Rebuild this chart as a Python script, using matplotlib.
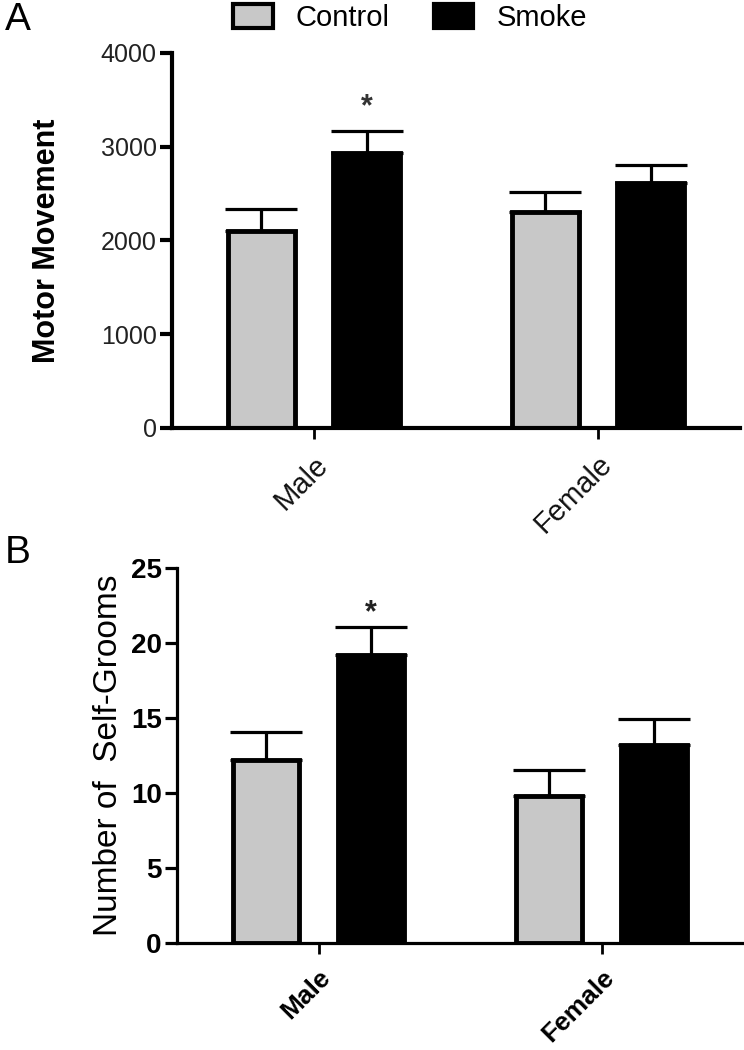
import matplotlib
matplotlib.use("Agg")
import matplotlib.pyplot as plt
from matplotlib.patches import Patch
import numpy as np

# ---- data ----
groups = ["Male", "Female"]
series = ["Control", "Smoke"]
motor_mean = {"Control": [2100, 2305], "Smoke": [2930, 2610]}
motor_sem = {"Control": [235, 215], "Smoke": [235, 195]}
groom_mean = {"Control": [12.2, 9.8], "Smoke": [19.2, 13.2]}
groom_sem = {"Control": [1.85, 1.75], "Smoke": [1.85, 1.75]}
colors = {"Control": "#c8c8c8", "Smoke": "#000000"}
motor_ticks = [0, 1000, 2000, 3000, 4000]
groom_ticks = [0, 5, 10, 15, 20, 25]
star_motor = 3420
star_groom = 22.0

plt.rcParams['font.family'] = ['Liberation Sans', 'DejaVu Sans']

fig = plt.figure(figsize=(7.44, 10.5), dpi=100)
axA = fig.add_axes([172/744, 1-428/1050, 568/744, 375/1050])
axB = fig.add_axes([177/744, 1-943/1050, 566/744, 375/1050])

x = np.arange(len(groups))
offs = {"Control": -0.185, "Smoke": 0.185}
width = 0.235

def draw(ax, means, sems, ticks, lw_spine, lw_edge, tickfont, xfont, ylabel, yfont):
    for s in series:
        pos = x + offs[s]
        ax.errorbar(pos, means[s], yerr=[np.zeros(len(groups)), sems[s]],
                    fmt='none', ecolor='black', elinewidth=2.3, capsize=26,
                    capthick=2.3, zorder=1)
        ax.bar(pos, means[s], width=width, color=colors[s], edgecolor='black',
               linewidth=lw_edge, zorder=2)
    ax.set_xlim(-0.5, 1.5)
    ax.set_ylim(0, ticks[-1])
    ax.set_yticks(ticks)
    ax.set_xticks(x)
    for sp in ["top", "right"]:
        ax.spines[sp].set_visible(False)
    for sp in ["left", "bottom"]:
        ax.spines[sp].set_linewidth(lw_spine)
    ax.spines["bottom"].set_zorder(3)
    ax.tick_params(axis='y', length=9, width=lw_spine, pad=2)
    ax.tick_params(axis='x', length=8, width=2, pad=8)
    ax.set_yticklabels([str(t) for t in ticks], **tickfont)
    ax.set_xticklabels(groups, rotation=45, ha='right', rotation_mode='anchor', **xfont)
    ax.set_ylabel(ylabel, **yfont)

draw(axA, motor_mean, motor_sem, motor_ticks, 3.0, 3.5,
     dict(fontsize=18, color='#222222'),
     dict(fontsize=21, color='#111111'),
     "Motor Movement", dict(fontsize=22, fontweight='bold', labelpad=28))
draw(axB, groom_mean, groom_sem, groom_ticks, 2.3, 3.5,
     dict(fontsize=20, fontweight='bold'),
     dict(fontsize=19, fontweight='bold'),
     "Number of  Self-Grooms", dict(fontsize=24, labelpad=5))

axA.text(x[0] + offs["Smoke"], star_motor, "*", ha='center', va='center',
         fontsize=22, fontweight='bold', color='#333333')
axB.text(x[0] + offs["Smoke"], star_groom, "*", ha='center', va='center',
         fontsize=22, fontweight='bold', color='#222222')

fig.text(5/744, 1-2/1050, "A", fontsize=28, va='top', ha='left')
fig.text(5/744, 1-535/1050, "B", fontsize=28, va='top', ha='left')

handles = [Patch(facecolor=colors[s], edgecolor='black', linewidth=3) for s in series]
fig.legend(handles, series, loc='center', bbox_to_anchor=(410/744, 1-18/1050),
           ncol=2, frameon=False, handlelength=1.35, handleheight=0.85,
           columnspacing=1.5, handletextpad=0.8,
           prop=dict(size=21))

fig.savefig("out.png", dpi=100)
